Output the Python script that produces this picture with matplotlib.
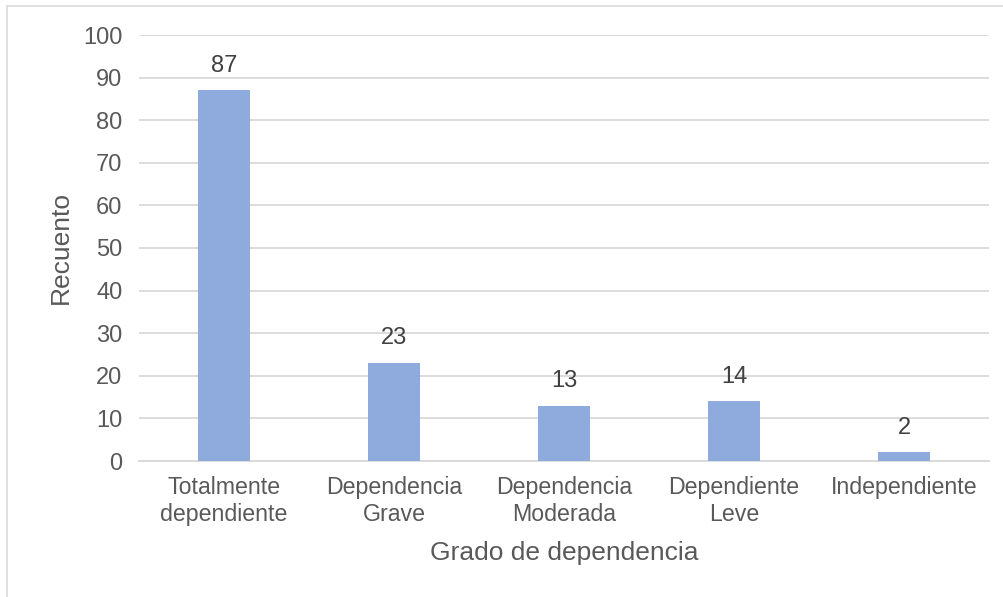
import matplotlib
matplotlib.use("Agg")
import matplotlib.pyplot as plt
from matplotlib.patches import Rectangle

categories = ["Totalmente\ndependiente", "Dependencia\nGrave", "Dependencia\nModerada",
              "Dependiente\nLeve", "Independiente"]
counts = [87, 23, 13, 14, 2]
yticks = [0, 10, 20, 30, 40, 50, 60, 70, 80, 90, 100]

text_color = "#595959"
grid_color = "#d9d9d9"
bar_color = "#8faadc"

plt.rcParams["font.family"] = ["Liberation Sans", "DejaVu Sans"]

fig = plt.figure(figsize=(10.04, 5.97), dpi=100)
fig.patch.set_facecolor("white")

# chart frame (top and left edges visible)
fig.add_artist(Rectangle((7 / 1004, -0.05), 1.1, 1 - 6 / 597 + 0.05,
                         transform=fig.transFigure, fill=False,
                         edgecolor=grid_color, linewidth=1.2))

ax = fig.add_axes([139 / 1004, 1 - 461 / 597, 850 / 1004, 426 / 597])
x = range(len(categories))
ax.bar(x, counts, width=0.31, color=bar_color, zorder=3)
for xi, v in zip(x, counts):
    ax.text(xi, v + 3.2, str(v), ha="center", va="bottom",
            fontsize=17, color="#404040")

ax.set_xlim(-0.5, len(categories) - 0.5)
ax.set_ylim(0, 100)
ax.set_yticks(yticks)
ax.set_xticks(list(x))
ax.set_xticklabels(categories, fontsize=16.7, color=text_color, linespacing=1.2)
ax.tick_params(axis="y", labelsize=17, labelcolor=text_color, length=0, pad=12)
ax.tick_params(axis="x", length=0, pad=11)
ax.yaxis.grid(True, color=grid_color, linewidth=1.3, zorder=0)
for side in ["top", "right", "left"]:
    ax.spines[side].set_visible(False)
ax.spines["bottom"].set_color(grid_color)
ax.spines["bottom"].set_linewidth(1.3)

ax.set_ylabel("Recuento", fontsize=19, color=text_color, labelpad=7)
ax.set_xlabel("Grado de dependencia", fontsize=19, color=text_color, labelpad=11)

fig.savefig("out.png", dpi=100, facecolor="white")
